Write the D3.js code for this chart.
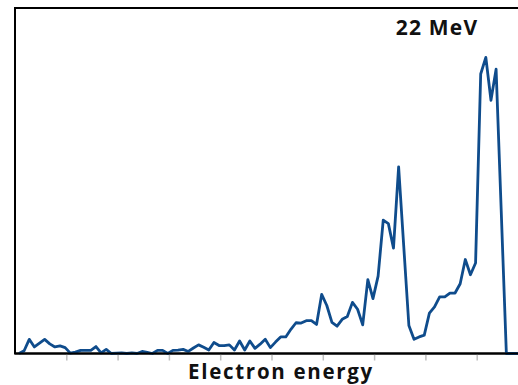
<!DOCTYPE html>
<html lang="en">
<head>
  <meta charset="UTF-8">
  <title>Electron energy spectrum - 22 MeV</title>
  <style>
    body { margin: 0; background: #fff; }
    svg { display: block; overflow: hidden; }
    .frame { fill: none; stroke: #000; stroke-width: 2px; }
    .tick line { stroke: #bfbfbf; stroke-width: 1.5px; }
    .label { font-family: "Open Sans", sans-serif; font-weight: bold; fill: #111; }
  </style>
  <script src="https://d3js.org/d3.v7.min.js"></script>
</head>
<body>
<div id="chart"></div>
<script>
  // counts per energy bin (arbitrary units, % of plot height)
  var counts = [
    0, 0.8, 4.1, 1.9, 3.0, 4.1, 2.8, 1.9, 2.2, 1.7,
    0.1, 0.4, 0.9, 0.9, 0.9, 2.0, 0.2, 1.2, 0, 0.1,
    0.2, 0, 0.2, 0, 0.6, 0.3, 0, 0.9, 0.9, 0,
    0.9, 1.0, 1.2, 0.6, 1.6, 2.5, 1.8, 1.0, 3.2, 2.3,
    2.3, 2.5, 1.0, 3.6, 1.0, 3.6, 1.5, 2.7, 4.1, 1.7,
    3.3, 4.8, 4.8, 7.0, 8.9, 8.8, 9.5, 9.5, 8.4, 17.1,
    13.9, 9.0, 7.9, 9.9, 10.7, 14.8, 12.8, 8.3, 21.4, 15.9,
    22.4, 38.6, 37.6, 30.5, 54.0, 31.0, 8.1, 4.1, 4.8, 5.3,
    11.7, 13.5, 16.4, 16.4, 17.5, 17.5, 20.2, 27.2, 22.8, 26.2,
    80.9, 85.7, 73.3, 82.3, 41.3, 0, 0, 0, 0, 0
  ];
  var bins = counts.map((d, i) => i);
  var tickBins = [10, 20, 30, 40, 50, 60, 70, 80, 90];
  var title = "22 MeV";
  var xTitle = "Electron energy";

  var width = 518, height = 385;
  // note: "top" is taken by window.top, so use a margin object
  var m = { left: 15, top: 8, bottom: 353.5, right: 528 };

  var svg = d3.select("#chart").append("svg")
    .attr("width", width)
    .attr("height", height);

  // bins sit 0.78 of a bin inside the left frame, ticks every 10 bins
  var x = d3.scaleLinear().domain([-0.78, 99.22]).range([m.left, m.right]);
  var y = d3.scaleLinear().domain([0, 100]).range([m.bottom, m.top]);

  // frame
  svg.append("rect")
    .attr("class", "frame")
    .attr("x", m.left).attr("y", m.top)
    .attr("width", m.right - m.left).attr("height", m.bottom - m.top);

  // tick marks under the axis, no labels
  var xAxis = d3.axisBottom(x)
    .tickValues(tickBins.map(d => d - 0.78))
    .tickSize(6)
    .tickFormat("");
  var gx = svg.append("g")
    .attr("transform", "translate(0," + (m.bottom + 1) + ")")
    .call(xAxis);
  gx.select(".domain").remove();

  // spectrum line
  var line = d3.line()
    .x((d, i) => x(bins[i]))
    .y(d => y(d));

  svg.append("path")
    .datum(counts)
    .attr("fill", "none")
    .attr("stroke", "#0f4c8c")
    .attr("stroke-width", 2.8)
    .attr("stroke-linejoin", "round")
    .attr("d", line);

  // redraw bottom axis line over the data
  svg.append("line")
    .attr("x1", m.left).attr("x2", m.right)
    .attr("y1", m.bottom).attr("y2", m.bottom)
    .attr("stroke", "#000").attr("stroke-width", 2);

  svg.append("text")
    .attr("class", "label")
    .attr("x", 437).attr("y", 35)
    .attr("text-anchor", "middle")
    .attr("font-size", 21)
    .attr("letter-spacing", 1.2)
    .text(title);

  svg.append("text")
    .attr("class", "label")
    .attr("x", 281).attr("y", 379)
    .attr("text-anchor", "middle")
    .attr("font-size", 20.5)
    .attr("letter-spacing", 1.7)
    .text(xTitle);
</script>
</body>
</html>
